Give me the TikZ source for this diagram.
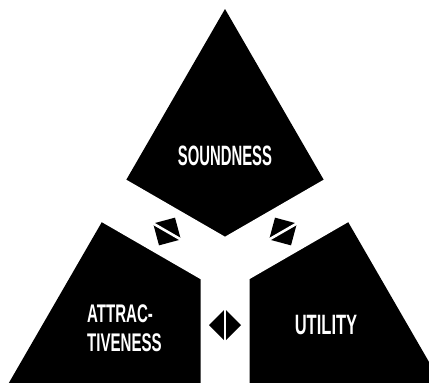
\documentclass[tikz,border=0pt]{standalone}
\usepackage{fontspec}
\newfontfamily\condnarrow[FakeStretch=0.53]{Liberation Sans Bold}
\newfontfamily\condwide[FakeStretch=0.59]{Liberation Sans Bold}
\begin{document}
\begin{tikzpicture}[x=1pt,y=-1pt,
  lbl/.style={text=white, inner sep=0pt},
  gem/.style={fill=black},
  gemcut/.style={draw=white, line width=2.6pt}]
\useasboundingbox (0,0) rectangle (429,383);
\clip (0,0) rectangle (429,383);
\fill[white] (0,0) rectangle (429,383);
% big black triangle
\fill[black] (225,9) -- (451,400) -- (-1,400) -- cycle;
% white Y band
\fill[white] (225,236.7) -- (484.8,86.7) -- (509.3,129.1) -- (249.5,279.1)
  -- (249.5,579.1) -- (200.5,579.1) -- (200.5,279.1) -- (-59.3,129.1)
  -- (-34.8,86.7) -- cycle;
% small split diamonds
\foreach \cx/\cy/\r in {225/325/0, 167/231.5/60, 283/231.5/-60}{
  \begin{scope}[shift={(\cx,\cy)}, rotate=\r]
    \fill[gem] (0,-16) -- (16,0) -- (0,16) -- (-16,0) -- cycle;
    \draw[gemcut] (0,-19) -- (0,19);
  \end{scope}
}
% labels
\node[lbl, font=\condnarrow\fontsize{28}{30}\selectfont] (sound) at (225,156.3) {SOUNDNESS};
\node[lbl, font=\condwide\fontsize{25.5}{28.5}\selectfont, anchor=west, align=left] (attr) at (87,328.2) {ATTRAC-\\TIVENESS};
\node[lbl, font=\condwide\fontsize{28}{30}\selectfont] (util) at (326,325) {UTILITY};
\end{tikzpicture}
\end{document}
